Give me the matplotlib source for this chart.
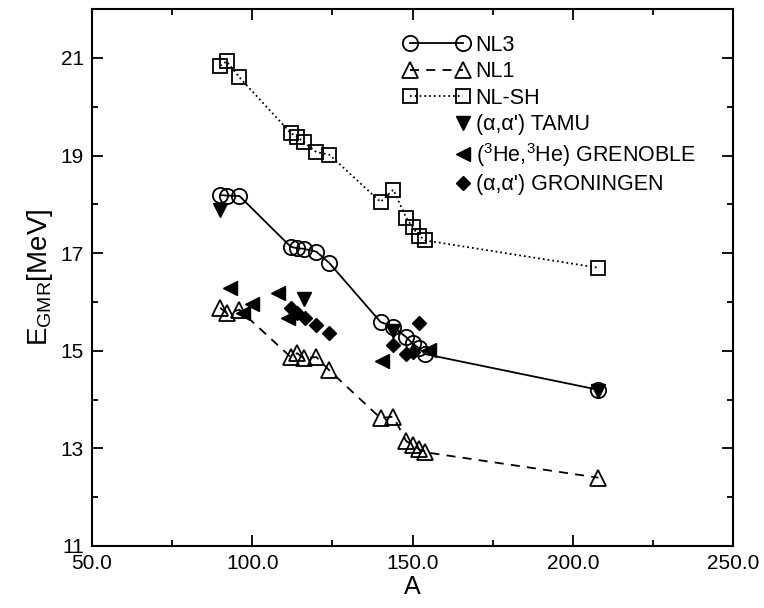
import matplotlib.pyplot as plt
from matplotlib.ticker import MultipleLocator, FixedLocator, FormatStrFormatter
from matplotlib.legend_handler import HandlerLine2D

plt.rcParams['font.family'] = ['Liberation Sans', 'DejaVu Sans']
plt.rcParams['mathtext.fontset'] = 'custom'
plt.rcParams['mathtext.rm'] = 'Liberation Sans'

# mass numbers used by the model curves
A_model = [90, 92, 96, 112, 114, 116, 120, 124, 140, 144, 148, 150, 152, 154, 208]
E_nl3 = [18.19, 18.18, 18.17, 17.13, 17.1, 17.09, 17.03, 16.8, 15.59, 15.49, 15.28, 15.15, 15.05, 14.93, 14.2]
E_nl1 = [15.88, 15.77, 15.84, 14.87, 14.95, 14.85, 14.87, 14.6, 13.62, 13.65, 13.15, 13.07, 12.98, 12.92, 12.4]
E_nlsh = [20.84, 20.93, 20.6, 19.46, 19.38, 19.28, 19.07, 19.02, 18.05, 18.3, 17.73, 17.53, 17.36, 17.26, 16.7]

# experiments
A_tamu = [90, 116, 144, 208]
E_tamu = [17.89, 16.07, 15.4, 14.17]
A_gren = [93, 97, 100, 108, 111, 140.5, 155]
E_gren = [16.29, 15.77, 15.95, 16.18, 15.67, 14.78, 15.02]
A_gron = [112, 114, 116.5, 120, 124, 144, 148, 150, 152]
E_gron = [15.88, 15.77, 15.67, 15.53, 15.36, 15.12, 14.93, 14.98, 15.57]

y_major = [11, 13, 15, 17, 19, 21]
y_minor = [12, 14, 16, 18, 20, 22]


def right_only(legline, orig):
    # legend symbol for data points: one marker at the right end
    legline.update_from(orig)
    legline.set_markevery([1])


fig = plt.figure(figsize=(7.64, 6.08), dpi=100)
ax = fig.add_axes([0.1205, 0.102, 0.839, 0.883])

ax.plot(A_model, E_nl3, '-', color='black', lw=1.3, marker='o', ms=11,
        mfc='none', mec='black', mew=1.3, label='NL3')
ax.plot(A_model, E_nl1, '--', color='black', lw=1.3, marker='^', ms=11,
        mfc='none', mec='black', mew=1.3, dashes=(5, 4), label='NL1')
ax.plot(A_model, E_nlsh, ':', color='black', lw=1.3, marker='s', ms=10,
        mfc='none', mec='black', mew=1.3, label='NL-SH')
h_tamu, = ax.plot(A_tamu, E_tamu, 'v', color='black', ms=10, ls='none', label="(\u03b1,\u03b1') TAMU")
h_gren, = ax.plot(A_gren, E_gren, '<', color='black', ms=10, ls='none',
                  label="($^3$He,$^3$He) GRENOBLE")
h_gron, = ax.plot(A_gron, E_gron, 'D', color='black', ms=7.5, ls='none',
                  label="(\u03b1,\u03b1') GRONINGEN")

ax.set_xlim(50, 250)
ax.set_ylim(11, 22)
ax.xaxis.set_major_locator(MultipleLocator(50))
ax.xaxis.set_minor_locator(MultipleLocator(25))
ax.xaxis.set_major_formatter(FormatStrFormatter('%.1f'))
ax.yaxis.set_major_locator(FixedLocator(y_major))
ax.yaxis.set_minor_locator(FixedLocator(y_minor))
ax.yaxis.set_major_formatter(FormatStrFormatter('%d'))
ax.tick_params(which='both', direction='in', top=True, right=True, width=1.3, labelsize=15)
ax.tick_params(axis='y', pad=6)
ax.tick_params(axis='x', pad=6)
ax.tick_params(which='major', length=8)
ax.tick_params(which='minor', length=4)
for s in ax.spines.values():
    s.set_linewidth(1.5)

ax.set_xlabel('A', fontsize=18, labelpad=1)
ax.set_ylabel('E$_\\mathregular{GMR}$[MeV]', fontsize=20, labelpad=4)

rm = HandlerLine2D(update_func=right_only)
ax.legend(loc='upper left', bbox_to_anchor=(395 / 764, 1 - 26 / 608), bbox_transform=fig.transFigure,
          frameon=False, numpoints=2, fontsize=15.5, handlelength=3.05, handletextpad=0.3,
          labelspacing=0.26, borderaxespad=0.0,
          handler_map={h_tamu: rm, h_gren: rm, h_gron: rm})

fig.savefig('out.png', dpi=100)
